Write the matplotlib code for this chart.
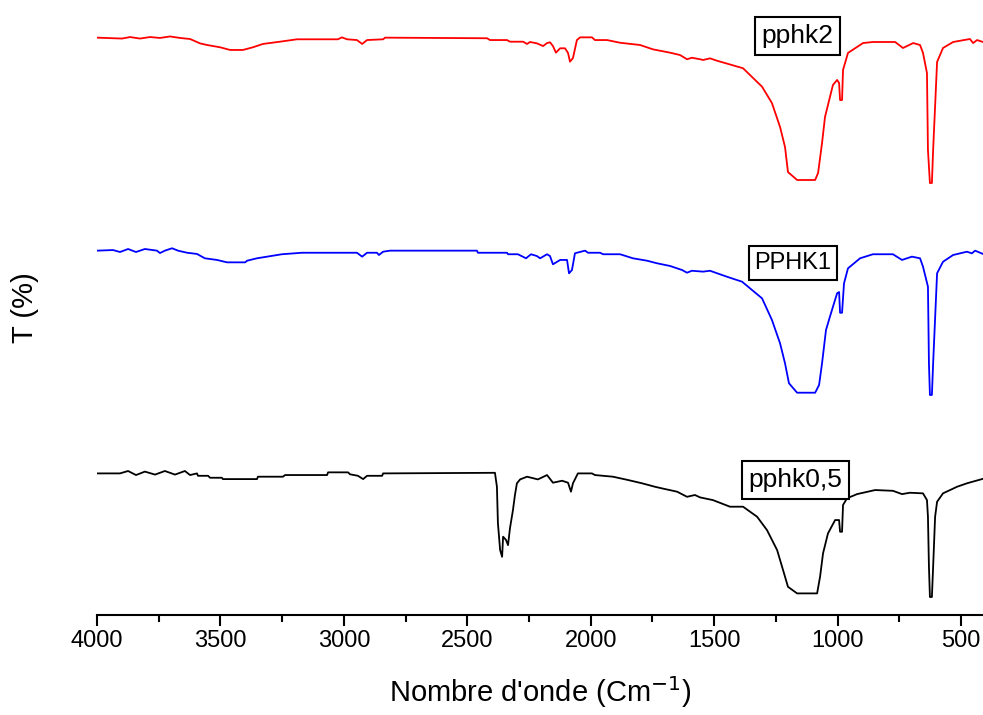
import matplotlib
matplotlib.use("Agg")
import matplotlib.pyplot as plt
from matplotlib.ticker import MultipleLocator

plt.rcParams['font.family'] = ['Liberation Sans', 'DejaVu Sans']

# --- spectres (nombre d'onde en cm-1, T en %) ---
w_pphk2 = [4000, 3899, 3866, 3826, 3785, 3745, 3704, 3664, 3623, 3583, 3554, 3502,
           3461, 3409, 3368, 3328, 3259, 3190, 3024, 3008, 2987, 2947, 2926, 2906,
           2841, 2833, 2420, 2408, 2339, 2327, 2274, 2258, 2246, 2218, 2193, 2177,
           2165, 2153, 2141, 2124, 2104, 2092, 2084, 2072, 2056, 2043, 1995, 1983,
           1934, 1881, 1800, 1748, 1679, 1638, 1610, 1590, 1557, 1545, 1517, 1488,
           1383, 1306, 1266, 1233, 1213, 1201, 1164, 1091, 1079, 1063, 1051, 1031,
           1019, 1002, 994, 990, 982, 978, 958, 897, 857, 767, 735, 694, 666, 654,
           638, 634, 626, 618, 613, 597, 573, 532, 464, 451, 435, 411]
T_pphk2 = [96.9, 96.3, 97.3, 96.3, 97.3, 96.7, 97.7, 96.7, 96.0, 93.1, 92.0, 90.5,
           88.7, 88.7, 90.5, 92.7, 94.2, 95.8, 95.8, 97.1, 95.8, 95.3, 92.7, 95.3,
           95.8, 96.9, 96.5, 95.3, 95.3, 94.2, 94.2, 92.7, 94.0, 93.1, 91.3, 93.3,
           93.8, 91.3, 86.9, 89.8, 89.8, 86.7, 80.9, 83.3, 95.3, 97.1, 97.1, 95.3,
           95.3, 93.5, 92.0, 89.1, 86.9, 85.3, 82.5, 83.5, 82.5, 82.0, 83.1, 81.5,
           76.5, 64.2, 53.3, 37.3, 24.0, 7.3, 2.0, 2.0, 6.7, 26.7, 44.0, 57.3,
           65.3, 68.7, 66.7, 55.3, 55.3, 75.3, 86.7, 93.3, 94.0, 94.0, 90.0, 93.3, 92.0, 86.7,
           73.3, 22.0, 0.0, 0.0, 22.0, 80.7, 90.0, 94.0, 96.0, 93.3, 95.3, 94.0]

w_pphk1 = [4000, 3935, 3907, 3874, 3842, 3806, 3757, 3745, 3725, 3696, 3672, 3635,
           3595, 3563, 3514, 3473, 3400, 3392, 3352, 3311, 3251, 3170, 2947, 2926,
           2906, 2866, 2858, 2841, 2813, 2461, 2457, 2339, 2335, 2295, 2262, 2242,
           2218, 2205, 2177, 2165, 2153, 2124, 2096, 2088, 2076, 2064, 2056, 2023,
           2011, 1962, 1950, 1881, 1829, 1772, 1732, 1679, 1630, 1610, 1590, 1545,
           1517, 1448, 1387, 1306, 1266, 1233, 1213, 1197, 1164, 1091, 1075, 1063,
           1047, 1031, 1002, 994, 990, 982, 974, 958, 909, 857, 776, 739, 699, 666,
           654, 634, 630, 626, 618, 613, 597, 573, 532, 476, 456, 443, 411]
T_pphk1 = [96.9, 97.3, 96.0, 98.0, 96.0, 98.0, 96.9, 95.3, 96.9, 98.5, 96.9, 95.5,
           94.7, 91.8, 90.7, 89.1, 89.1, 90.2, 91.8, 92.9, 94.5, 95.5, 95.5, 92.9,
           95.5, 95.5, 94.0, 96.2, 96.9, 96.9, 95.5, 95.5, 94.5, 94.5, 91.8, 94.5,
           93.3, 91.8, 94.5, 93.3, 87.8, 90.7, 90.7, 81.8, 84.0, 95.1, 95.5, 96.9,
           95.5, 95.5, 94.5, 94.5, 91.8, 90.2, 88.5, 86.7, 84.0, 82.2, 83.5, 82.9,
           83.5, 79.5, 76.2, 65.1, 50.7, 35.1, 21.8, 8.5, 2.2, 2.2, 7.3, 21.8,
           44.0, 52.9, 68.5, 69.3, 55.5, 55.5, 75.1, 85.1, 91.8, 94.5, 94.5, 90.7, 92.9, 91.8,
           86.2, 72.9, 21.8, 0.7, 0.7, 21.8, 81.8, 89.5, 94.0, 96.2, 95.1, 96.9, 94.7]

w_pphk05 = [4000, 3907, 3874, 3842, 3806, 3765, 3725, 3684, 3644, 3623, 3595, 3591,
            3550, 3542, 3494, 3490, 3352, 3348, 3247, 3238, 3068, 3064, 2983, 2975,
            2943, 2922, 2906, 2845, 2841, 2388, 2380, 2376, 2367, 2359, 2355, 2343,
            2335, 2327, 2315, 2307, 2299, 2286, 2258, 2214, 2177, 2153, 2116, 2092,
            2080, 2072, 2052, 1995, 1983, 1910, 1849, 1792, 1740, 1711, 1650, 1610,
            1578, 1557, 1505, 1436, 1383, 1326, 1286, 1245, 1221, 1201, 1164, 1083,
            1071, 1059, 1039, 1010, 994, 990, 982, 978, 962, 921, 848, 776, 739, 707,
            654, 638, 634, 630, 626, 618, 613, 605, 597, 573, 516, 476, 411]
T_pphk05 = [83.1, 83.1, 84.7, 82.0, 84.3, 82.3, 84.7, 82.3, 84.7, 82.0, 83.1, 81.5,
            81.5, 80.2, 80.2, 79.3, 79.3, 80.9, 80.9, 82.0, 82.0, 83.8, 83.8, 82.5,
            81.5, 79.3, 81.5, 81.5, 83.1, 83.5, 74.2, 50.0, 32.0, 27.5, 40.9, 38.7,
            35.3, 46.7, 58.7, 68.7, 76.5, 79.1, 80.9, 79.1, 82.0, 76.9, 78.2, 76.9,
            70.9, 76.5, 83.1, 83.1, 82.0, 80.9, 78.7, 76.5, 74.2, 73.1, 70.9, 67.5,
            68.7, 67.1, 65.3, 60.9, 60.9, 54.2, 45.3, 32.0, 18.7, 7.5, 3.1, 3.1,
            14.2, 29.8, 43.1, 52.0, 52.0, 44.2, 44.2, 62.0, 66.5, 69.3, 72.0, 71.5, 69.3, 70.2,
            69.8, 65.3, 54.2, 20.9, 0.7, 0.7, 20.9, 54.2, 64.2, 69.8, 74.2, 76.5, 79.5]

# décalages verticaux des courbes empilées
offset_pphk2 = 288
offset_pphk1 = 146
offset_pphk05 = 11.3

fig = plt.figure(figsize=(9.83, 7.15), dpi=100)
ax = fig.add_axes([97 / 983, 100 / 715, 886 / 983, 615 / 715])

ax.plot(w_pphk2, [t + offset_pphk2 for t in T_pphk2], color='#ff0000', lw=1.3)
ax.plot(w_pphk1, [t + offset_pphk1 for t in T_pphk1], color='#0000ff', lw=1.3)
ax.plot(w_pphk05, [t + offset_pphk05 for t in T_pphk05], color='black', lw=1.3)

ax.set_xlim(4000, 411)
ax.set_ylim(0, 410)

for s in ['top', 'right', 'left']:
    ax.spines[s].set_visible(False)
ax.spines['bottom'].set_linewidth(1.5)
ax.set_yticks([])

ax.xaxis.set_major_locator(MultipleLocator(500))
ax.xaxis.set_minor_locator(MultipleLocator(250))
ax.tick_params(axis='x', which='major', length=8, width=1.5, labelsize=17, pad=3)
ax.tick_params(axis='x', which='minor', length=5, width=1.5)

ax.set_xlabel("Nombre d'onde (Cm$^{-1}$)", fontsize=21, labelpad=16)
ax.set_ylabel("T (%)", fontsize=21, labelpad=42)

# étiquettes encadrées
box = dict(boxstyle='square,pad=0.25', facecolor='white', edgecolor='black', lw=1.5)
ax.text(1164, 386, 'pphk2', fontsize=19, ha='center', va='center', bbox=box)
ax.text(1181, 234.7, 'PPHK1', fontsize=17, ha='center', va='center', bbox=box)
ax.text(1172, 90, 'pphk0,5', fontsize=19, ha='center', va='center', bbox=box)

fig.savefig('out.png', dpi=100)
